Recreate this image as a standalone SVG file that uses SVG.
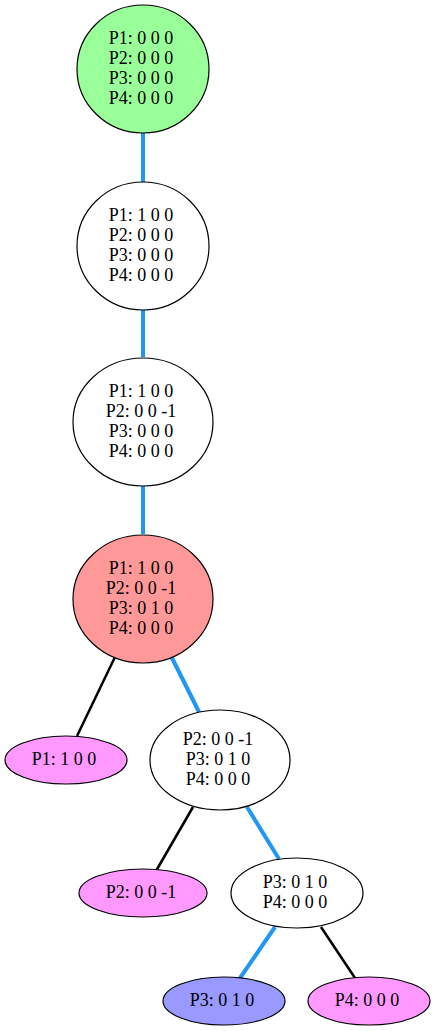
<svg xmlns="http://www.w3.org/2000/svg" width="436" height="1031" viewBox="0 0 436 1031">
<style>
.n{stroke:#000;stroke-width:1.2}
text{font-family:"Liberation Serif","Times New Roman",serif;font-size:18px;text-anchor:middle;fill:#000}
.b{stroke:#2196f3;stroke-width:4;fill:none}
.k{stroke:#000;stroke-width:2.5;fill:none}
</style>
<rect width="436" height="1031" fill="#fff"/>
<g id="connectors">
<line class="b" x1="143" y1="133" x2="143" y2="182"/>
<line class="b" x1="143" y1="310" x2="143" y2="357"/>
<line class="b" x1="143" y1="486" x2="143" y2="534"/>
<line class="k" x1="115" y1="657" x2="77" y2="736"/>
<line class="b" x1="171" y1="656" x2="199" y2="712"/>
<line class="k" x1="193" y1="807" x2="156" y2="871"/>
<line class="b" x1="247" y1="807" x2="279" y2="859"/>
<line class="b" x1="275" y1="927" x2="240" y2="978"/>
<line class="k" x1="321" y1="927" x2="355" y2="978"/>
</g>
<g id="n1">
<ellipse class="n" cx="143" cy="69" rx="66" ry="64" fill="#99ff99"/>
<text x="141" y="44">P1: 0 0 0</text><text x="141" y="64">P2: 0 0 0</text><text x="141" y="84">P3: 0 0 0</text><text x="141" y="104">P4: 0 0 0</text>
</g>
<g id="n2">
<ellipse class="n" cx="143" cy="246" rx="66" ry="64" fill="#fff"/>
<text x="141" y="221">P1: 1 0 0</text><text x="141" y="241">P2: 0 0 0</text><text x="141" y="261">P3: 0 0 0</text><text x="141" y="281">P4: 0 0 0</text>
</g>
<g id="n3">
<ellipse class="n" cx="143" cy="422" rx="70" ry="64" fill="#fff"/>
<text x="141" y="397">P1: 1 0 0</text><text x="141" y="417">P2: 0 0 -1</text><text x="141" y="437">P3: 0 0 0</text><text x="141" y="457">P4: 0 0 0</text>
</g>
<g id="n4">
<ellipse class="n" cx="143" cy="599" rx="70" ry="64" fill="#ff9999"/>
<text x="141" y="574">P1: 1 0 0</text><text x="141" y="594">P2: 0 0 -1</text><text x="141" y="614">P3: 0 1 0</text><text x="141" y="634">P4: 0 0 0</text>
</g>
<g id="n5">
<ellipse class="n" cx="66" cy="760" rx="61" ry="24" fill="#ff99ff"/>
<text x="64" y="765">P1: 1 0 0</text>
</g>
<g id="n6">
<ellipse class="n" cx="220" cy="760" rx="70" ry="50" fill="#fff"/>
<text x="218" y="745">P2: 0 0 -1</text><text x="218" y="765">P3: 0 1 0</text><text x="218" y="785">P4: 0 0 0</text>
</g>
<g id="n7">
<ellipse class="n" cx="143" cy="893" rx="64" ry="24" fill="#ff99ff"/>
<text x="141" y="898">P2: 0 0 -1</text>
</g>
<g id="n8">
<ellipse class="n" cx="297" cy="893" rx="66" ry="35" fill="#fff"/>
<text x="295" y="888">P3: 0 1 0</text><text x="295" y="908">P4: 0 0 0</text>
</g>
<g id="n9">
<ellipse class="n" cx="224" cy="1001" rx="61" ry="24" fill="#9999ff"/>
<text x="222" y="1006">P3: 0 1 0</text>
</g>
<g id="n10">
<ellipse class="n" cx="369" cy="1001" rx="61" ry="24" fill="#ff99ff"/>
<text x="367" y="1006">P4: 0 0 0</text>
</g>
</svg>
